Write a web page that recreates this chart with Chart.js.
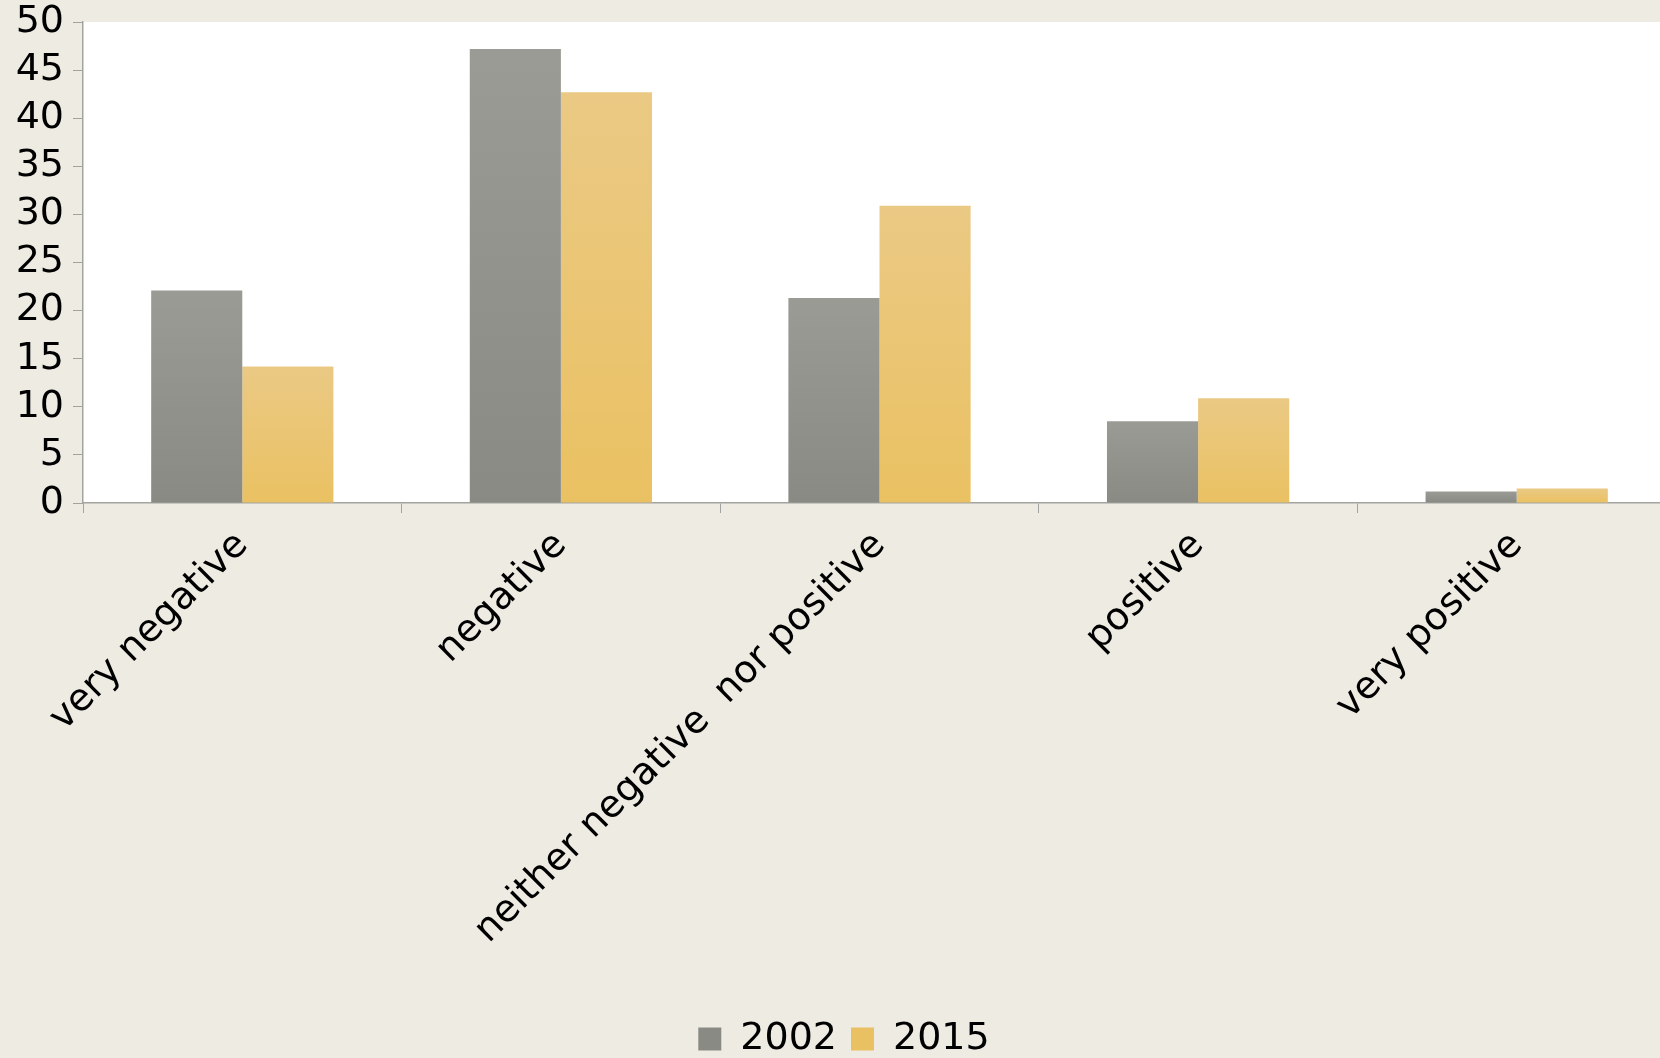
<!DOCTYPE html>
<html>
<head>
<meta charset="utf-8">
<script src="https://cdn.jsdelivr.net/npm/chart.js@4"></script>
<style>
  html, body { margin: 0; padding: 0; background: #eeebe3; overflow: hidden; }
  #wrap { width: 1660px; height: 1058px; overflow: hidden; }
</style>
</head>
<body>
<div id="wrap"><canvas id="myChart" width="1676" height="1068"></canvas></div>
<script>
const categories = ['very negative', 'negative', 'neither negative  nor positive', 'positive', 'very positive'];
const seriesNames = ['2002', '2015'];
const values2002 = [22.1, 47.2, 21.3, 8.5, 1.2];
const values2015 = [14.2, 42.7, 30.9, 10.9, 1.5];
const yTicks = [0, 5, 10, 15, 20, 25, 30, 35, 40, 45, 50];

const FONT = { family: 'DejaVu Sans', size: 38 };
const AXIS_GREY = '#a3a39f';

// gradient per bar, from its top down to the zero line
function barFill(top, bottom) {
  return function(c) {
    const chart = c.chart;
    if (!chart.chartArea || c.raw == null) return bottom;
    const y = chart.scales.y;
    const g = chart.ctx.createLinearGradient(0, y.getPixelForValue(c.raw), 0, y.getPixelForValue(0));
    g.addColorStop(0, top);
    g.addColorStop(1, bottom);
    return g;
  };
}

const plotBackground = {
  id: 'plotBackground',
  beforeDraw(chart) {
    const a = chart.chartArea;
    chart.ctx.save();
    chart.ctx.fillStyle = '#ffffff';
    chart.ctx.fillRect(a.left, a.top, a.right - a.left, a.bottom - a.top);
    chart.ctx.restore();
  }
};

const ctx = document.getElementById('myChart').getContext('2d');
new Chart(ctx, {
  type: 'bar',
  data: {
    labels: categories,
    datasets: [{
      label: seriesNames[0],
      data: values2002,
      backgroundColor: barFill('#9b9b95', '#8a8a84'),
      borderWidth: 0
    }, {
      label: seriesNames[1],
      data: values2015,
      backgroundColor: barFill('#eac984', '#eac162'),
      borderWidth: 0
    }]
  },
  options: {
    responsive: false,
    animation: false,
    layout: { padding: { left: 12, top: 22, right: 0, bottom: 0 } },
    datasets: { bar: { categoryPercentage: 0.572, barPercentage: 1.0 } },
    plugins: {
      legend: {
        position: 'bottom',
        labels: {
          font: FONT,
          color: '#000000',
          boxWidth: 23,
          boxHeight: 23,
          padding: 14
        }
      },
      tooltip: { enabled: false }
    },
    scales: {
      x: {
        grid: { drawOnChartArea: false, tickLength: 10, color: AXIS_GREY, offset: true },
        border: { color: AXIS_GREY, width: 1.5 },
        ticks: { font: FONT, color: '#000000', minRotation: 45, maxRotation: 45, padding: 10, autoSkip: false },
        afterFit: function(s) { s.height = 503; }
      },
      y: {
        min: 0,
        max: 50,
        grid: { drawOnChartArea: false, tickLength: 10, color: AXIS_GREY },
        border: { color: AXIS_GREY, width: 1.5 },
        afterBuildTicks: function(s) { s.ticks = yTicks.map(v => ({ value: v })); },
        ticks: { font: FONT, color: '#000000', padding: 9, autoSkip: false },
        afterFit: function(s) { s.width = 71; s.paddingTop = 0; }
      }
    }
  },
  plugins: [plotBackground]
});
</script>
</body>
</html>
